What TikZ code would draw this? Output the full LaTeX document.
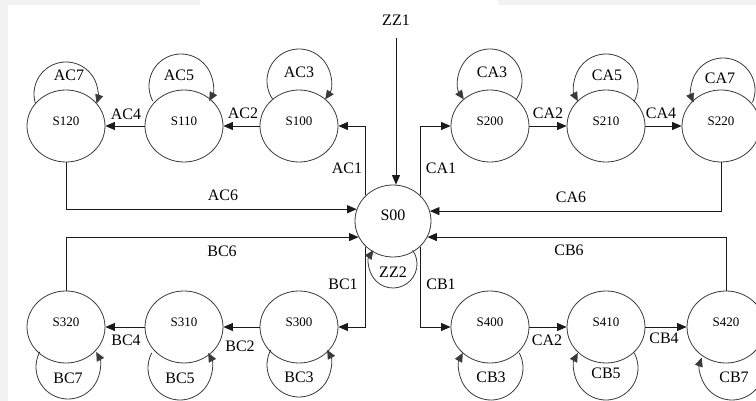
\documentclass[tikz,border=0pt]{standalone}
\usepackage{fontspec}
\setmainfont{Liberation Serif}
\usetikzlibrary{arrows.meta,shapes.geometric,calc}
\definecolor{bggray}{HTML}{F2F2F2}
\definecolor{linecol}{HTML}{1A1A1A}
\definecolor{circcol}{HTML}{3A3A3A}
\newcommand{\selfloop}[6]{%
  \draw[loopc] ($(#1)+(#2,#3)+(#5:#4)$) arc[start angle=#5, end angle=#6, radius=#4];}
\begin{document}
\begin{tikzpicture}[x=1pt,y=-1pt,
  state/.style={ellipse,draw=circcol,line width=0.8pt,fill=white,minimum width=78pt,minimum height=72pt,inner sep=0pt,font=\fontsize{13}{13}\selectfont,text height=9pt,text depth=10.5pt},
  bigstate/.style={state,minimum width=76pt,minimum height=72pt,font=\fontsize{16}{16}\selectfont,text height=11pt,text depth=12.5pt},
  lbl/.style={font=\fontsize{16}{16}\selectfont,inner sep=0pt},
  arr/.style={draw=linecol,line width=0.8pt,-{Triangle[length=9.5pt,width=8pt]}},
  loopc/.style={draw=circcol,line width=0.8pt,-{Triangle[length=9pt,width=8pt]}}]
\useasboundingbox (0,0) rectangle (756,401);
\clip (0,0) rectangle (756,401);
\fill[bggray] (0,0) rectangle (756,401);
\fill[white] (8,5) rectangle (756,401);
\fill[white] (200,0) rectangle (498,5);

% states
\node[bigstate] (S00) at (393,221) {S00};
\node[state] (S120) at (66,126) {S120};
\node[state] (S110) at (184,126) {S110};
\node[state] (S100) at (299,126) {S100};
\node[state] (S200) at (490,126) {S200};
\node[state] (S210) at (606,126) {S210};
\node[state] (S220) at (721,126) {S220};
\node[state] (S320) at (66,327) {S320};
\node[state] (S310) at (184,327) {S310};
\node[state] (S300) at (299,327) {S300};
\node[state] (S400) at (490,327) {S400};
\node[state] (S410) at (606,327) {S410};
\node[state] (S420) at (726,327) {S420};

% entry
\node[lbl] (ZZ1) at (396,20) {ZZ1};
\draw[arr,shorten <=13pt] (ZZ1) -- (ZZ1 |- S00.north);

% branch connectors
\draw[arr] (S00.north west) |- (S100);
\draw[arr] (S00.north east) |- (S200);
\draw[arr] (S00.south west) |- (S300);
\draw[arr] (S00.south east) |- (S400);
\draw[arr] (S100) -- (S110);
\draw[arr] (S110) -- (S120);
\draw[arr] (S200) -- (S210);
\draw[arr] (S210) -- (S220);
\draw[arr] (S300) -- (S310);
\draw[arr] (S310) -- (S320);
\draw[arr] (S400) -- (S410);
\draw[arr] (S410) -- (S420);
% return connectors
\draw[arr] (S120) |- (S00.162);
\draw[arr] (S220) |- (S00.15);
\draw[arr] (S320) |- (S00.205);
\draw[arr] (S420) |- (S00.335);

% self loops
\selfloop{S120}{0}{-32}{32}{162.6}{377.4}
\selfloop{S110}{-3}{-40}{32}{151.8}{388.2}
\selfloop{S100}{0}{-45}{32}{145}{395}
\selfloop{S200}{0}{-45}{32}{395}{145}
\selfloop{S210}{0}{-40}{32}{388.2}{151.8}
\selfloop{S220}{2}{-36}{32}{382.9}{157.1}
\selfloop{S320}{2}{40}{32}{208.2}{-28.2}
\selfloop{S310}{-4}{41}{32}{208.2}{-28.2}
\selfloop{S300}{0}{38}{32}{208.2}{-28.2}
\selfloop{S400}{1}{41}{32}{-28.2}{208.2}
\selfloop{S410}{0}{41}{32}{-28.2}{208.2}
\selfloop{S420}{6}{41}{32}{-35}{199}
\selfloop{S00}{0}{43}{24}{-35}{215}

% labels
\node[lbl] (lAC1) at (347,168) {AC1};
\node[lbl] (lCA1) at (441,168) {CA1};
\node[lbl] (lBC1) at (343,284) {BC1};
\node[lbl] (lCB1) at (441,284) {CB1};
\node[lbl] (lAC2) at (243,113) {AC2};
\node[lbl] (lAC4) at (126,114) {AC4};
\node[lbl] (lCA2) at (548,113) {CA2};
\node[lbl] (lCA4) at (661,113) {CA4};
\node[lbl] (lAC6) at (223,195) {AC6};
\node[lbl] (lCA6) at (571,197) {CA6};
\node[lbl] (lBC6) at (222,251) {BC6};
\node[lbl] (lCB6) at (569,250) {CB6};
\node[lbl] (lBC2) at (240,346) {BC2};
\node[lbl] (lBC4) at (126,340) {BC4};
\node[lbl] (lCA2b) at (547,340) {CA2};
\node[lbl] (lCB4) at (664,338) {CB4};
\node[lbl] (lZZ2) at (393,272) {ZZ2};
\node[lbl] (lAC7) at (69,75) {AC7};
\node[lbl] (lAC5) at (179,75) {AC5};
\node[lbl] (lAC3) at (299,72) {AC3};
\node[lbl] (lCA3) at (492,72) {CA3};
\node[lbl] (lCA5) at (607,75) {CA5};
\node[lbl] (lCA7) at (720,78) {CA7};
\node[lbl] (lBC7) at (68,378) {BC7};
\node[lbl] (lBC5) at (180,378) {BC5};
\node[lbl] (lBC3) at (299,377) {BC3};
\node[lbl] (lCB3) at (491,377) {CB3};
\node[lbl] (lCB5) at (606,373) {CB5};
\node[lbl] (lCB7) at (734,377) {CB7};
\end{tikzpicture}
\end{document}
